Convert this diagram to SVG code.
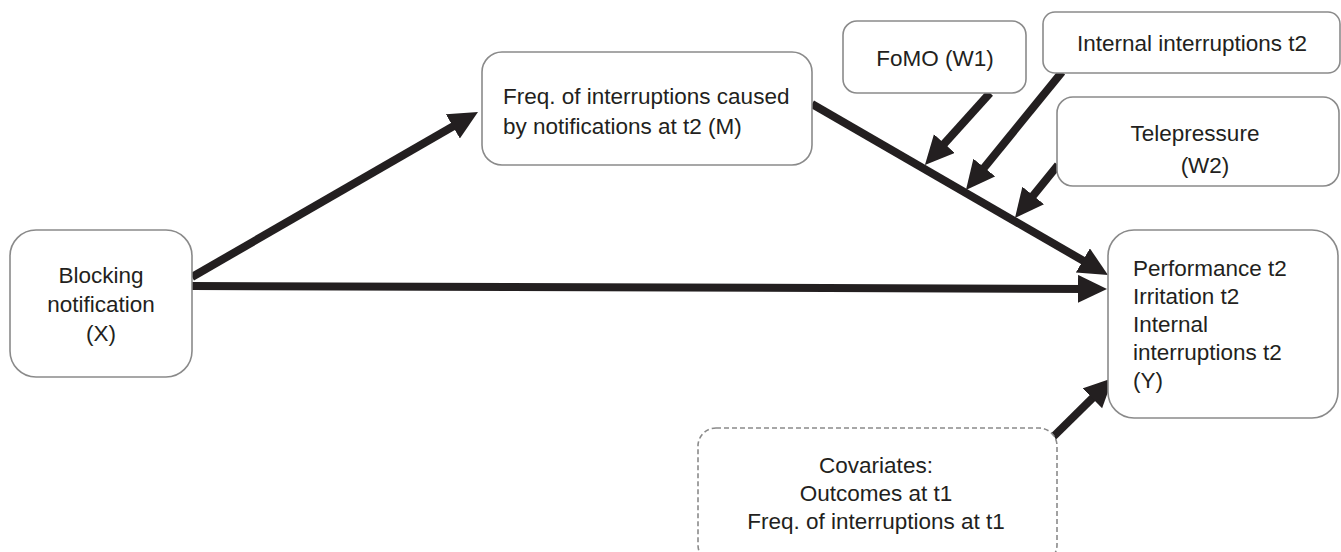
<svg xmlns="http://www.w3.org/2000/svg" width="1341" height="552" viewBox="0 0 1341 552">
<style>
.box{fill:#fff;stroke:#8a8a8a;stroke-width:1.6}
.dash{fill:#fff;stroke:#8a8a8a;stroke-width:1.6;stroke-dasharray:5 3}
text{font-family:"Liberation Sans",Arial,sans-serif;font-size:22.5px;fill:#231f20}
.c{text-anchor:middle}
.arr{stroke:#231f20;stroke-width:8;fill:none;marker-end:url(#ah)}
</style>
<defs>
<marker id="ah" markerUnits="userSpaceOnUse" markerWidth="32" markerHeight="32" refX="8" refY="14" orient="auto">
<path d="M0,0 L29,14 L0,28 z" fill="#231f20"/>
</marker>
</defs>
<g id="connectors">
<line class="arr" x1="192" y1="277" x2="459.8" y2="122.5"/>
<line class="arr" x1="192" y1="286" x2="1086" y2="288.9"/>
<line class="arr" x1="812" y1="104" x2="1089.8" y2="264.5"/>
<line class="arr" x1="990" y1="93" x2="939" y2="149.5"/>
<line class="arr" x1="1062" y1="72" x2="979.2" y2="173.7"/>
<line class="arr" x1="1058" y1="165" x2="1028.2" y2="201.7"/>
<line class="arr" x1="1053" y1="437" x2="1098" y2="392.7"/>
</g>
<g id="nodeX">
<rect class="box" x="10" y="230" width="182" height="147" rx="26"/>
<text class="c" x="101" y="283">Blocking</text>
<text class="c" x="101" y="312">notification</text>
<text class="c" x="101" y="341">(X)</text>
</g>
<g id="nodeM">
<rect class="box" x="482" y="52" width="330" height="113" rx="20"/>
<text x="503" y="104">Freq. of interruptions caused</text>
<text x="503" y="134">by notifications at t2 (M)</text>
</g>
<g id="nodeW1">
<rect class="box" x="843" y="21" width="183" height="72" rx="14"/>
<text class="c" x="935" y="66">FoMO (W1)</text>
</g>
<g id="nodeInternal">
<rect class="box" x="1043" y="12" width="297" height="61" rx="12"/>
<text class="c" x="1192" y="51">Internal interruptions t2</text>
</g>
<g id="nodeW2">
<rect class="box" x="1057" y="97" width="282" height="89" rx="16"/>
<text class="c" x="1195" y="141">Telepressure</text>
<text class="c" x="1205" y="173">(W2)</text>
</g>
<g id="nodeY">
<rect class="box" x="1108" y="230" width="230" height="188" rx="26"/>
<text x="1133" y="276">Performance t2</text>
<text x="1133" y="304">Irritation t2</text>
<text x="1133" y="332">Internal</text>
<text x="1133" y="360">interruptions t2</text>
<text x="1133" y="388">(Y)</text>
</g>
<g id="nodeCov">
<rect class="dash" x="698" y="428" width="359" height="135" rx="18"/>
<text class="c" x="876" y="473">Covariates:</text>
<text class="c" x="876" y="501">Outcomes at t1</text>
<text class="c" x="876" y="529">Freq. of interruptions at t1</text>
</g>
</svg>
